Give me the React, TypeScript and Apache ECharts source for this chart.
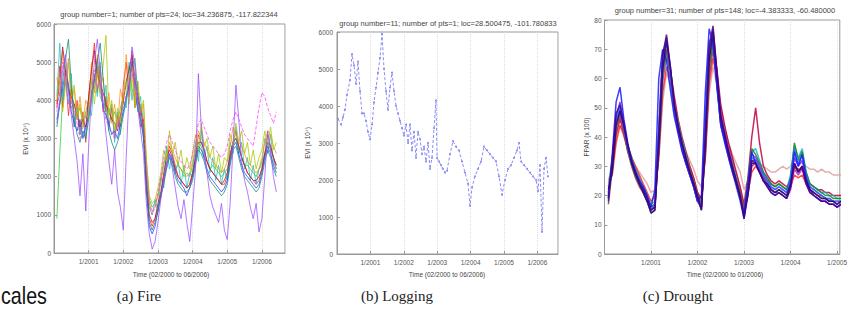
import React, { useEffect, useRef } from "react";
import * as echarts from "echarts";

// x values are month indices: 0 = Jan 2000, 12 = Jan 2001, ...
// ---------- (a) Fire: EVI (x 10^4), monthly from Feb 2000 (month 1) to Jun 2006 (month 77)
const fire1 = [
  3400, 4000, 4800, 5200, 4300, 3600, 3000, 2400, 1500, 2600, 1100, 2800,
  4200, 5000, 5600, 4800, 3900, 3100, 2400, 1800, 2700, 1600, 1200, 600,
  2500, 4200, 5400, 4900, 3800, 3200, 2600, 1300, 500, 100, 300, 800,
  1400, 1900, 2300, 2600, 2200, 1700, 1200, 900, 1400, 800, 300, 1200,
  2200, 4700, 3300, 2700, 2100, 1500, 1200, 1000, 800, 1300, 600, 350,
  1300, 2800, 4400, 3500, 2400, 1900, 1600, 1200, 900, 1300, 550, 900,
  2000, 3200, 2700, 2000, 1600,
];
const fire2 = [
  900, 2600, 4100, 4600, 4200, 3800, 3900, 3600, 3800, 3400, 3700, 4000,
  4500, 4300, 4900, 4100, 3900, 3700, 3800, 3500, 3700, 3400, 3800, 4100,
  4400, 4900, 4300, 4100, 3800, 3900, 3500, 2400, 1400, 1200, 1300, 1500,
  1900, 2300, 2700, 2500, 2400, 2200, 2300, 2200, 2000, 2100, 2000, 2300,
  2700, 2900, 2800, 2500, 2400, 2200, 2300, 2200, 2100, 2000, 2100, 2200,
  2500, 2900, 3000, 2700, 2500, 2300, 2300, 2200, 2100, 2000, 2200, 2400,
  2600, 2900, 2700, 2500, 2300,
];
const fire3 = [
  3900, 4900, 3800, 4700, 3600, 4300, 3300, 4000, 3100, 3700, 2900, 4100,
  4800, 5500, 4200, 4900, 3700, 4100, 3300, 3800, 3000, 3600, 3300, 4400,
  5000, 4100, 5300, 3800, 4200, 3300, 3500, 1700, 900, 700, 900, 1200,
  1500, 2000, 2400, 2800, 2600, 2300, 2000, 1900, 1800, 1700, 1800, 2100,
  2500, 3100, 2900, 2700, 2400, 2200, 2100, 2000, 1900, 1800, 1800, 2000,
  2500, 2900, 3200, 2800, 2500, 2300, 2100, 2000, 1900, 1800, 1900, 2200,
  2600, 3100, 2800, 2500, 2200,
];
const fire4 = [
  4100, 5500, 4000, 4600, 3900, 4700, 3300, 3800, 3100, 3600, 3000, 3900,
  3600, 4700, 4100, 5000, 3800, 4400, 3200, 3900, 2900, 3700, 3100, 4000,
  3800, 5000, 4000, 4600, 3700, 4100, 3000, 2100, 1200, 1000, 1400, 1100,
  2000, 1700, 2800, 2200, 2600, 2100, 2400, 1800, 2300, 1700, 2100, 2000,
  2900, 2400, 3200, 2500, 2800, 2100, 2500, 1900, 2300, 1800, 2200, 1900,
  2900, 2600, 3300, 2600, 2900, 2200, 2500, 1900, 2300, 1800, 2200, 2300,
  3000, 2600, 3100, 2400, 2200,
];
const fire5 = [
  3700, 4300, 5000, 4500, 3900, 4000, 3800, 3400, 3000, 3300, 3600, 3700,
  4100, 4800, 4300, 4500, 3800, 3500, 3300, 3200, 3000, 3400, 3600, 3800,
  4200, 4500, 4700, 4400, 4100, 3800, 3400, 2200, 1300, 1000, 1200, 1600,
  2000, 2500, 2900, 3100, 2900, 2700, 2500, 2400, 2300, 2200, 2300, 2600,
  3000, 3400, 3500, 3300, 3100, 2900, 2800, 2700, 2600, 2500, 2600, 2800,
  3200, 3500, 3700, 3500, 3300, 3100, 3000, 2900, 2800, 3300, 3800, 4200,
  4100, 3800, 3600, 3400, 3700,
];
const fire6 = [
  3500, 3900, 4300, 4800, 4400, 3700, 3400, 3200, 3500, 3000, 3300, 3600,
  4200, 4500, 5100, 4400, 3800, 3600, 3400, 3100, 3200, 3000, 3400, 3700,
  4100, 4400, 5000, 4300, 3800, 3500, 3000, 1600, 700, 500, 700, 1100,
  1500, 1900, 2300, 2600, 2400, 2100, 1900, 1800, 1700, 1500, 1700, 2000,
  2400, 2800, 2700, 2500, 2200, 2000, 1900, 1800, 1700, 1600, 1700, 1900,
  2400, 2800, 2900, 2600, 2300, 2100, 2000, 1900, 1800, 1700, 1800, 2100,
  2500, 2800, 2600, 2300, 2100,
];
const fire7 = [
  4600, 4100, 5300, 4400, 5100, 3900, 4300, 3500, 4100, 3400, 4000, 3800,
  5000, 4200, 5200, 4300, 4600, 3700, 4200, 3400, 3900, 3300, 4300, 3900,
  5200, 4400, 4900, 4100, 4500, 3600, 3900, 2300, 1300, 1100, 1200, 1500,
  1900, 2400, 2600, 2900, 2700, 2500, 2300, 2200, 2100, 2000, 2100, 2400,
  2800, 3200, 3000, 2900, 2700, 2500, 2400, 2300, 2200, 2100, 2200, 2400,
  2800, 3300, 3100, 2900, 2800, 2600, 2400, 2300, 2200, 2100, 2200, 2500,
  2900, 3200, 3100, 2800, 2600,
];
const fire8 = [
  3800, 4600, 5400, 4800, 4300, 4100, 3900, 3600, 3300, 3500, 3300, 4100,
  4800, 5300, 4700, 4400, 4200, 3900, 3700, 3500, 3400, 3200, 3600, 4000,
  4500, 4800, 5200, 4600, 4000, 3800, 3300, 1900, 1000, 800, 900, 1300,
  1600, 2100, 2500, 2700, 2500, 2200, 2000, 1900, 1800, 1700, 1800, 2100,
  2500, 2900, 2900, 2700, 2400, 2200, 2100, 2000, 1900, 1800, 1900, 2100,
  2600, 2900, 3000, 2800, 2500, 2300, 2100, 2000, 1900, 1900, 2000, 2200,
  2600, 2900, 2800, 2500, 2300,
];
const fire9 = [
  4000, 4600, 3700, 4400, 5000, 4100, 4400, 3500, 3900, 3300, 3700, 3500,
  4600, 3900, 4700, 4200, 4900, 5700, 3600, 4000, 3200, 3800, 3400, 4100,
  4500, 3900, 4700, 3800, 4500, 3700, 4000, 2500, 1500, 1300, 1400, 1700,
  2100, 2700, 2400, 3200, 2600, 2900, 2300, 2700, 2100, 2500, 2200, 2600,
  3100, 2700, 3400, 2800, 3000, 2500, 2800, 2200, 2600, 2100, 2500, 2400,
  3100, 2800, 3400, 2900, 3200, 2600, 2900, 2300, 2700, 2200, 2500, 2700,
  3200, 2800, 3300, 2700, 2900,
];
const fire10 = [
  3300, 3900, 4500, 5100, 5600, 4400, 3600, 3100, 2900, 3200, 3000, 3500,
  4000, 4600, 5000, 5500, 4600, 3700, 3200, 2900, 2700, 2900, 3200, 3600,
  4000, 4400, 4900, 5100, 4200, 3600, 3100, 1800, 800, 600, 800, 1100,
  1500, 1800, 2200, 2500, 2300, 2000, 1800, 1700, 1600, 1600, 1700, 1900,
  2300, 2700, 2600, 2400, 2100, 1900, 1800, 1700, 1600, 1500, 1600, 1800,
  2300, 2700, 2800, 2500, 2200, 2000, 1900, 1800, 1700, 1600, 1700, 2000,
  2400, 2700, 2500, 2200, 2000,
];
const fireSeries = [fire2, fire3, fire4, fire6, fire7, fire8, fire9, fire10, fire5, fire1];
const fireColors = ["#2ecc2e", "#ff2020", "#20c0c0", "#2040ff", "#ff8c1a", "#b01030", "#a8c800", "#108878", "#ff40ff", "#9d4dff"];

// ---------- (b) Logging: single pixel, [month, EVI]
const loggingMonths = [
  0.36, 1.44, 2.16, 2.87, 3.59, 4.67, 5.39, 6.11, 6.83, 7.55, 8.26, 8.98, 9.7, 10.42, 11.14, 11.86,
  12.58, 13.29, 14.01, 14.73, 15.45, 16.17, 16.89, 17.61, 18.32, 19.04, 19.76, 20.48, 21.2, 21.92,
  22.64, 23.35, 24.07, 24.79, 25.51, 26.23, 26.95, 27.67, 28.38, 29.1, 29.82, 30.54, 31.26, 31.98,
  32.7, 33.41, 34.13, 34.85, 35.57, 35.93, 36.65, 37.37, 38.09, 38.8, 39.52, 40.6, 41.68, 42.76,
  43.83, 44.91, 45.99, 47.07, 47.79, 48.51, 49.58, 50.66, 51.74, 52.82, 53.9, 54.97, 56.05, 57.13,
  58.21, 59.28, 60.36, 61.44, 62.52, 63.6, 64.67, 65.39, 66.11, 67.19, 68.27, 69.35, 70.42, 71.5,
  72.22, 72.94, 73.66, 74.38, 75.1, 75.81,
];
const loggingValues = [
  3650, 3500, 3700, 3900, 4300, 4700, 5400, 5100, 4600, 5200, 4400, 3800, 3800, 3600, 3300, 3100,
  3500, 4100, 4500, 4900, 5300, 5950, 5000, 4400, 3900, 4500, 4900, 4400, 4000, 3800,
  3600, 3400, 3200, 3500, 3000, 3500, 2800, 3300, 2600, 3300, 3100, 2700, 2900, 2500,
  3000, 2300, 2600, 3400, 4150, 2600, 2500, 2400, 2300, 2200, 2250, 2700, 3050, 2900,
  2800, 2500, 2200, 1900, 1300, 1800, 2100, 2300, 2500, 2900, 2800, 2700, 2600, 2500,
  2100, 1600, 2000, 2300, 2400, 2600, 2800, 3000, 2500, 2400, 2300, 2200, 2100, 2000,
  1700, 2400, 600, 2300, 2600, 2100,
];

// ---------- (c) Drought: FPAR (x 100), monthly from Feb 2000 (month 1)
const drought1 = [
  18, 34, 52, 57, 46, 38, 32, 28, 25, 23, 20, 16,
  22, 60, 70, 66, 56, 47, 41, 35, 31, 27, 23, 18,
  20, 55, 77, 72, 57, 44, 38, 33, 28, 24, 19, 14,
  24, 35, 31, 28, 25, 23, 21, 20, 21, 20, 19, 23,
  35, 30, 34, 26, 22, 20, 19, 18, 18, 17, 17, 16,
  17, 16, 16,
];
const drought2 = [
  22, 28, 44, 49, 44, 37, 31, 27, 24, 21, 18, 14,
  15, 36, 63, 73, 64, 51, 44, 38, 33, 28, 24, 20,
  15, 36, 66, 76, 62, 47, 41, 35, 30, 25, 20, 12,
  20, 31, 31, 28, 25, 24, 22, 21, 22, 21, 20, 24,
  31, 28, 30, 25, 22, 21, 20, 19, 19, 18, 18, 17,
  18, 17, 17,
];
const drought3 = [
  20, 31, 47, 52, 45, 37, 32, 28, 25, 22, 19, 15,
  16, 38, 66, 74, 63, 50, 43, 37, 32, 28, 24, 19,
  16, 42, 70, 74, 59, 45, 40, 34, 29, 24, 19, 13,
  23, 34, 33, 30, 27, 25, 23, 22, 23, 22, 21, 25,
  33, 30, 32, 26, 23, 22, 21, 20, 19, 18, 18, 17,
  18, 17, 17,
];
const drought4 = [
  24, 27, 38, 44, 41, 36, 33, 30, 27, 24, 21, 18,
  20, 33, 55, 64, 60, 52, 45, 39, 34, 30, 26, 21,
  19, 33, 58, 67, 60, 50, 43, 37, 32, 27, 22, 16,
  21, 28, 30, 28, 26, 25, 24, 23, 24, 23, 22, 23,
  27, 26, 27, 24, 22, 21, 20, 20, 19, 19, 18, 18,
  18, 18, 17,
];
const drought5 = [
  19, 32, 46, 49, 42, 35, 31, 28, 25, 22, 19, 16,
  17, 42, 64, 70, 60, 49, 42, 36, 31, 27, 23, 18,
  16, 40, 67, 73, 58, 44, 39, 34, 29, 24, 19, 14,
  25, 36, 34, 31, 28, 26, 24, 23, 24, 23, 22, 26,
  38, 32, 35, 28, 24, 23, 22, 21, 20, 20, 19, 19,
  19, 18, 18,
];
const drought6 = [
  21, 30, 44, 48, 42, 36, 31, 27, 24, 21, 18, 15,
  16, 39, 67, 72, 61, 49, 42, 36, 31, 27, 23, 18,
  16, 38, 69, 77, 63, 48, 42, 36, 30, 25, 20, 14,
  20, 30, 31, 29, 26, 24, 22, 21, 21, 20, 19, 22,
  29, 27, 29, 24, 21, 20, 19, 18, 18, 17, 17, 16,
  17, 16, 16,
];
const drought7 = [
  17, 29, 43, 47, 41, 35, 30, 26, 23, 21, 18, 14,
  15, 37, 62, 70, 62, 51, 44, 38, 33, 29, 25, 20,
  17, 38, 64, 72, 61, 47, 41, 35, 30, 25, 21, 15,
  22, 32, 32, 29, 26, 24, 22, 21, 22, 21, 20, 23,
  30, 28, 30, 25, 22, 21, 20, 19, 19, 18, 18, 17,
  18, 17, 16,
];
const drought8 = [
  23, 33, 45, 48, 43, 37, 33, 29, 26, 23, 20, 17,
  18, 36, 60, 68, 61, 51, 45, 39, 34, 29, 25, 20,
  18, 37, 63, 71, 60, 48, 42, 36, 31, 26, 21, 15,
  24, 35, 36, 32, 28, 26, 24, 23, 24, 23, 22, 27,
  37, 33, 36, 28, 24, 23, 22, 21, 21, 20, 20, 19,
  19, 19, 18,
];
const drought9 = [
  19, 32, 48, 51, 44, 37, 32, 28, 24, 22, 19, 15,
  16, 41, 68, 75, 64, 51, 43, 37, 32, 28, 24, 19,
  15, 41, 71, 78, 62, 46, 40, 34, 29, 24, 19, 13,
  21, 32, 31, 28, 25, 23, 21, 20, 21, 20, 19, 23,
  31, 28, 30, 24, 21, 20, 19, 18, 18, 17, 17, 16,
  17, 16, 16,
];
const drought10 = [
  21, 29, 41, 46, 42, 37, 33, 29, 26, 23, 20, 16,
  17, 35, 59, 68, 63, 54, 46, 40, 35, 30, 26, 21,
  18, 34, 61, 70, 63, 51, 44, 38, 33, 28, 23, 17,
  26, 40, 50, 38, 30, 27, 25, 24, 25, 24, 23, 25,
  30, 29, 29, 26, 24, 23, 22, 22, 21, 21, 20, 20,
  20, 19, 19,
];
const drought11 = [
  20, 31, 46, 50, 43, 36, 31, 27, 24, 22, 19, 15,
  17, 44, 69, 73, 62, 49, 42, 36, 31, 27, 23, 18,
  17, 46, 73, 74, 58, 44, 39, 33, 28, 23, 18, 12,
  22, 33, 32, 29, 27, 25, 23, 22, 23, 22, 21, 26,
  36, 31, 34, 27, 23, 22, 21, 20, 19, 19, 18, 18,
  18, 17, 17,
];
const drought12 = [
  25, 30, 40, 44, 40, 36, 33, 30, 28, 26, 24, 21,
  22, 32, 52, 62, 58, 50, 44, 39, 35, 32, 29, 25,
  23, 32, 55, 64, 58, 49, 43, 38, 34, 31, 28, 22,
  25, 30, 32, 31, 30, 29, 28, 28, 29, 30, 29, 30,
  32, 31, 31, 30, 29, 29, 28, 29, 28, 28, 27, 27,
  27, 27, 26,
];
const droughtSeries = [drought12, drought4, drought10, drought8, drought5, drought7, drought6, drought3, drought11, drought1, drought2, drought9];
const droughtColors = ["#e0a0a0", "#ff2a2a", "#c00040", "#20b0c0", "#108a20", "#8b4513", "#c020c0", "#7a20ff", "#2a6cff", "#1a1aff", "#101080", "#4b0082"];

const yearLabel = (v: number) => (v > 0 && v % 12 === 0 ? `1/${2000 + v / 12}` : "");

const FONT = "Liberation Sans";
const axisText = { fontFamily: FONT, fontSize: 6.5, color: "#555" };

function xAx(gridIndex: number, max: number) {
  return {
    type: "value", gridIndex, min: 0, max, interval: 12,
    axisLine: { lineStyle: { color: "#999", width: 1 } },
    axisTick: { inside: true, length: 3, lineStyle: { color: "#999" } },
    axisLabel: { ...axisText, margin: 5, formatter: yearLabel, showMaxLabel: false, hideOverlap: false },
    splitLine: { show: true, lineStyle: { color: "#ddd", type: "dotted", width: 1 } },
  };
}
function yAx(gridIndex: number, max: number, interval: number, margin: number) {
  return {
    type: "value", gridIndex, min: 0, max, interval,
    axisLine: { show: true, lineStyle: { color: "#999", width: 1 } },
    axisTick: { show: true, inside: true, length: 3, lineStyle: { color: "#999" } },
    axisLabel: { ...axisText, margin, formatter: (v: number) => String(v) },
    splitLine: { show: false },
  };
}

export default function App() {
  const ref = useRef<HTMLDivElement>(null);
  useEffect(() => {
    const chart = echarts.init(ref.current!, undefined, { renderer: "svg" });
    const series: any[] = [];
    fireSeries.forEach((arr, k) => {
      series.push({
        type: "line", xAxisIndex: 0, yAxisIndex: 0, showSymbol: false, silent: true,
        data: arr.map((v, i) => [i + 1, v]),
        lineStyle: { color: fireColors[k], width: 0.9, type: k === 8 ? "dashed" : "solid", opacity: 0.85 },
      });
    });
    series.push({
      type: "line", xAxisIndex: 1, yAxisIndex: 1, silent: true,
      data: loggingMonths.map((m, i) => [m, loggingValues[i]]),
      symbol: "circle", symbolSize: 2,
      itemStyle: { color: "#8c8cf5" },
      lineStyle: { color: "#8c8cf5", width: 1, type: [3, 2] },
    });
    droughtSeries.forEach((arr, k) => {
      series.push({
        type: "line", xAxisIndex: 2, yAxisIndex: 2, showSymbol: false, silent: true,
        data: arr.map((v, i) => [i + 1, v]),
        lineStyle: { color: droughtColors[k], width: 1.5, opacity: 0.85 },
      });
    });

    const txt = (text: string, x: number, y: number, font: string, fill: string, extra: any = {}) => ({
      type: "text", x, y, silent: true, ...extra,
      style: { text, font, fill, align: "center", verticalAlign: "middle" },
    });

    chart.setOption({
      animation: false,
      backgroundColor: "#ffffff",
      grid: [
        { left: 54, top: 24, width: 231, height: 229, show: true, borderColor: "#999", borderWidth: 1 },
        { left: 337, top: 32, width: 221, height: 222, show: true, borderColor: "#999", borderWidth: 1 },
        { left: 604.5, top: 20, right: 0, height: 234, show: true, borderColor: "#999", borderWidth: 1 },
      ],
      xAxis: [xAx(0, 80), xAx(1, 79.4), xAx(2, 60.7)],
      yAxis: [yAx(0, 6000, 1000, 3), yAx(1, 6000, 1000, 4), yAx(2, 80, 10, 3)],
      series,
      graphic: [
        txt("group number=1; number of pts=24; loc=34.236875, -117.822344", 169, 14, `7.5px ${FONT}`, "#444"),
        txt("group number=11; number of pts=1; loc=28.500475, -101.780833", 448, 23, `7.5px ${FONT}`, "#444"),
        txt("group number=31; number of pts=148; loc=-4.383333, -60.480000", 725, 10, `7.5px ${FONT}`, "#444"),
        txt("EVI (x 10⁴)", 25, 139, `6.5px ${FONT}`, "#444", { rotation: Math.PI / 2 }),
        txt("EVI (x 10⁴)", 307, 143, `6.5px ${FONT}`, "#444", { rotation: Math.PI / 2 }),
        txt("FPAR (x 100)", 586, 137, `6.5px ${FONT}`, "#444", { rotation: Math.PI / 2 }),
        txt("Time (02/2000 to 06/2006)", 171, 274, `6.5px ${FONT}`, "#444"),
        txt("Time (02/2000 to 06/2006)", 447, 274, `6.5px ${FONT}`, "#444"),
        txt("Time (02/2000 to 01/2006)", 725, 274, `6.5px ${FONT}`, "#444"),
        txt("(a) Fire", 139, 296, "15px Liberation Serif", "#222"),
        txt("(b) Logging", 397, 296, "15px Liberation Serif", "#222"),
        txt("(c) Drought", 678, 296, "15px Liberation Serif", "#222"),
        {
          type: "text", x: 1, y: 296, scaleX: 0.82, silent: true,
          style: { text: "cales", font: `24px ${FONT}`, fill: "#111", align: "left", verticalAlign: "middle" },
        },
      ],
    });
    return () => chart.dispose();
  }, []);
  return <div ref={ref} style={{ position: "absolute", left: 0, top: 0, width: 850, height: 324 }} />;
}
